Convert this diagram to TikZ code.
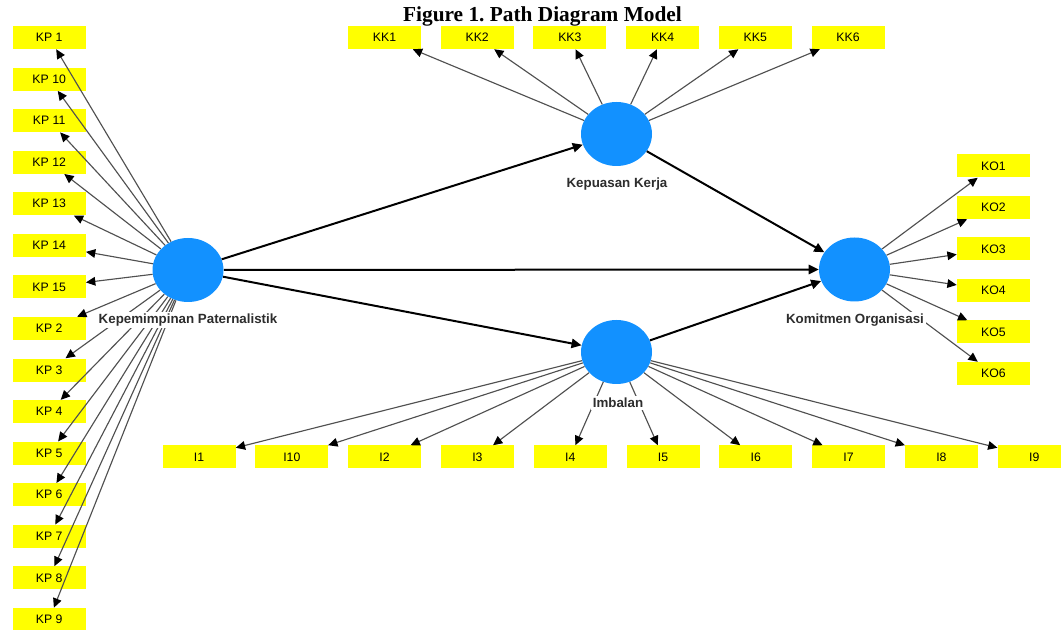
\documentclass[tikz,border=0pt]{standalone}
\usepackage{fontspec}
\setmainfont{Liberation Sans}
\newfontfamily\titlefont{Liberation Serif}
\usetikzlibrary{arrows.meta,shapes.geometric}
\definecolor{nodeblue}{RGB}{18,145,255}
\definecolor{boxyellow}{RGB}{255,255,0}
\definecolor{linegray}{RGB}{80,80,80}
\definecolor{labelgray}{RGB}{45,45,45}
\tikzset{
  indbox/.style={rectangle,fill=boxyellow,inner sep=0pt,minimum width=54.75pt,minimum height=17.25pt,
    font=\fontsize{9.2}{11}\selectfont,text=black},
  latent/.style={ellipse,fill=nodeblue,inner sep=0pt,minimum width=53.25pt,minimum height=48pt},
  indarrow/.style={draw=linegray,line width=0.85pt,-{Triangle[length=7pt,width=6.5pt,color=black]}},
  patharrow/.style={draw=black,line width=1.5pt,-{Triangle[length=7.5pt,width=7pt,color=black]}},
  latlabel/.style={fill=white,inner sep=1.5pt,text=labelgray,font=\fontsize{10}{12}\selectfont\bfseries}
}
\begin{document}
\frenchspacing
\begin{tikzpicture}[x=0.75pt,y=-0.75pt]
\path[use as bounding box,clip] (0,0) rectangle (1061,630);
\fill[white] (0,0) rectangle (1061,630);
% title
\node[anchor=base,inner sep=0pt,font=\titlefont\fontsize{16}{19}\selectfont\bfseries] (title) at (542.5,21.5) {Figure 1. Path Diagram Model};
% latent variables
\node[latent] (kp) at (188,270) {};
\node[latent] (kk) at (616.5,134) {};
\node[latent] (ko) at (854.5,269.5) {};
\node[latent] (im) at (616.5,352) {};
% indicators
\foreach \t [count=\i from 0] in {1,10,11,12,13,14,15,2,3,4,5,6,7,8,9}
  \node[indbox] (kp\t) at (49.2,{37.5+41.57*\i}) {KP \t};
\foreach \i in {1,...,6}
  \node[indbox] (kk\i) at ({384.5+92.7*(\i-1)},37.5) {KK\i};
\foreach \i in {1,...,6}
  \node[indbox] (ko\i) at (993.5,{166+41.5*(\i-1)}) {KO\i};
\foreach \t [count=\i from 0] in {1,10,2,3,4,5,6,7,8,9}
  \node[indbox] (im\t) at ({199+92.8*\i},457) {I\t};
% indicator arrows
\foreach \t in {1,10,11,12,13,14,15,2,3,4,5,6,7,8,9}
  \draw[indarrow] (kp) -- (kp\t);
\foreach \i in {1,...,6}
  \draw[indarrow] (kk) -- (kk\i);
\foreach \i in {1,...,6}
  \draw[indarrow] (ko) -- (ko\i);
\foreach \t in {1,10,2,3,4,5,6,7,8,9}
  \draw[indarrow] (im) -- (im\t);
% structural paths
\draw[patharrow] (kp) -- (kk);
\draw[patharrow] (kp) -- (ko);
\draw[patharrow] (kp) -- (im);
\draw[patharrow] (kk) -- (ko);
\draw[patharrow] (im) -- (ko);
% labels
\node[latlabel] (kplab) at (188,320) {Kepemimpinan Paternalistik};
\node[latlabel] (kklab) at (617,184) {Kepuasan Kerja};
\node[latlabel] (kolab) at (855,320) {Komitmen Organisasi};
\node[latlabel] (imlab) at (618,403) {Imbalan};
\end{tikzpicture}
\end{document}
